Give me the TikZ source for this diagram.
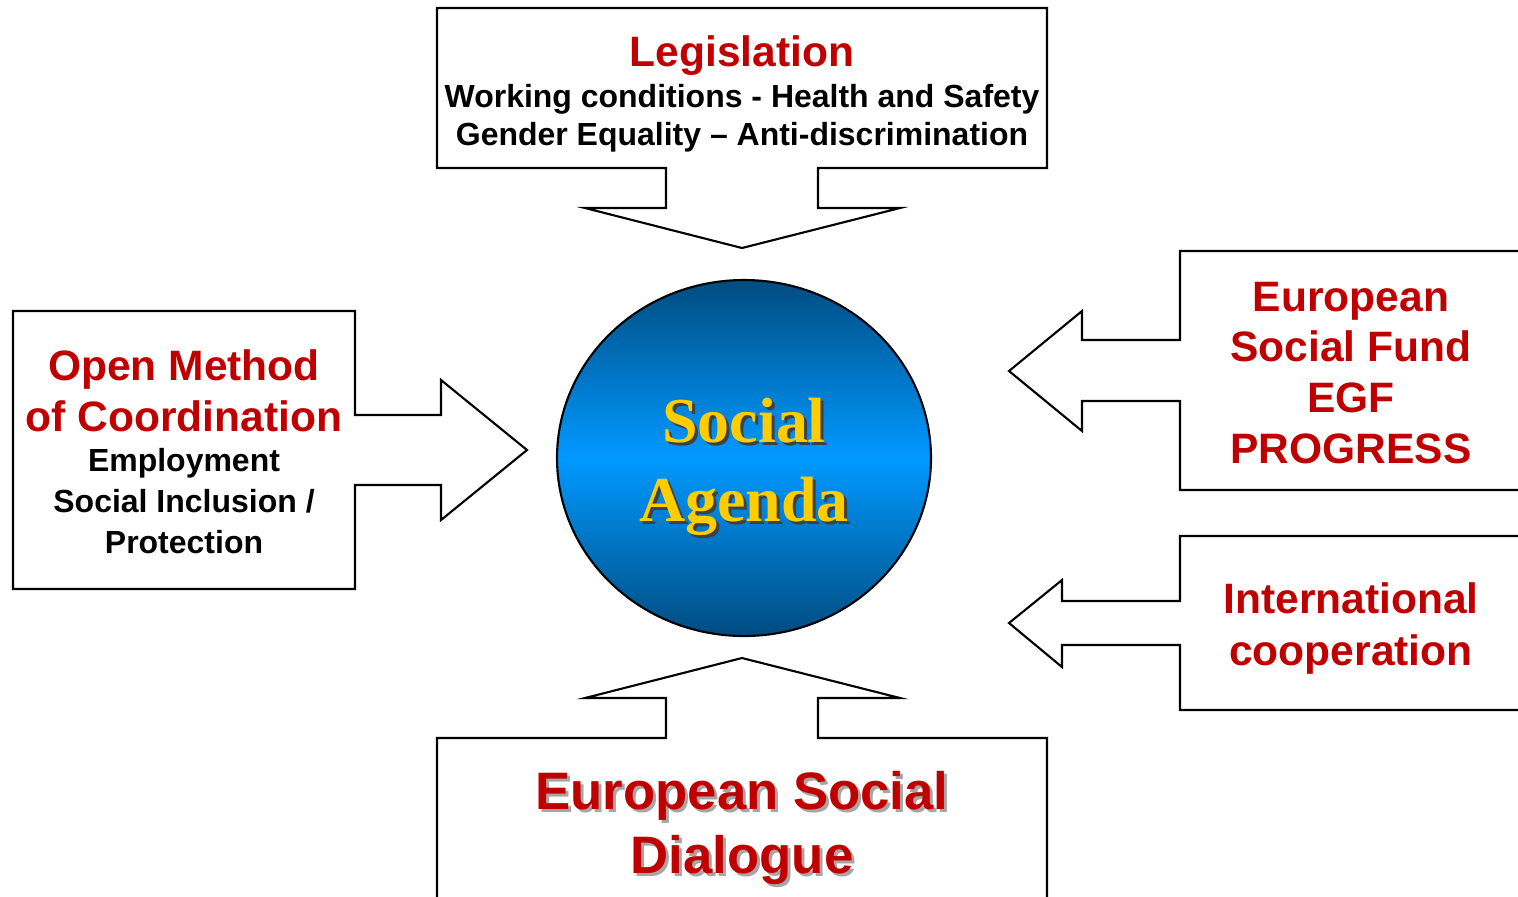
\documentclass[tikz,border=0pt]{standalone}
\usepackage{fontspec}
\setmainfont{Liberation Sans}
\newfontfamily\agendafont{Liberation Serif}
\definecolor{titlered}{HTML}{C00000}
\definecolor{agendagold}{HTML}{FFCC00}
\definecolor{ballblue}{HTML}{0099FF}
\definecolor{balldark}{HTML}{004C80}
\tikzset{
  frame/.style={line width=0.6pt, fill=white},
  titletext/.style={text=titlered, align=center, inner sep=0pt, font=\bfseries\fontsize{12.1}{14.5}\selectfont},
  subtext/.style={align=center, inner sep=0pt, font=\bfseries\fontsize{9.1}{10.8}\selectfont},
  agendatext/.style={text=agendagold, align=center, inner sep=0pt, font=\agendafont\bfseries\fontsize{18.2}{22.5}\selectfont},
}
\begin{document}
\begin{tikzpicture}[x=0.1mm, y=-0.1mm]
    \useasboundingbox (0,0) rectangle (1518,896);
    \clip (0,0) rectangle (1518,896);
    \draw [frame] (437,8) -- (1047,8) -- (1047,168) -- (818,168) -- (818,208) -- (900,208) -- (742,248) -- (585,208) -- (666,208) -- (666,168) -- (437,168) -- cycle;
    \draw [frame] (13,311) -- (355,311) -- (355,415) -- (441,415) -- (441,380) -- (527,450) -- (441,520) -- (441,485) -- (355,485) -- (355,589) -- (13,589) -- cycle;
    \draw [frame] (1540,251) -- (1180,251) -- (1180,340) -- (1082,340) -- (1082,311) -- (1009,371) -- (1082,431) -- (1082,401) -- (1180,401) -- (1180,490) -- (1540,490);
    \draw [frame] (1540,536) -- (1180,536) -- (1180,601) -- (1062,601) -- (1062,580) -- (1009,623) -- (1062,667) -- (1062,645) -- (1180,645) -- (1180,710) -- (1540,710);
    \draw [frame] (437,920) -- (437,738) -- (666,738) -- (666,698) -- (585,698) -- (742,658) -- (900,698) -- (818,698) -- (818,738) -- (1047,738) -- (1047,920);
    \draw [line width=0.6pt, top color=balldark, bottom color=balldark, middle color=ballblue] (744,458) ellipse [x radius=187, y radius=178];

    \node [titletext] (legislation) at (742,56) {Legislation};
    \node [subtext] (legislationsub) at (742,118) {Working conditions - Health and Safety\\Gender Equality -- Anti-discrimination};
    \node [titletext] (omc) at (184,391) {Open Method\\of Coordination};
    \node [subtext, font=\bfseries\fontsize{9.1}{11.7}\selectfont] (omcsub) at (184,501) {Employment\\Social Inclusion /\\Protection};
    \node [titletext] (esf) at (1351,373) {European\\Social Fund\\EGF\\PROGRESS};
    \node [titletext, font=\bfseries\fontsize{12.1}{14.8}\selectfont] (intl) at (1351,628) {International\\cooperation};
    \node [titletext, text=black!35, font=\bfseries\fontsize{15}{18}\selectfont] at (745,831) {European Social\\Dialogue};
    \node [titletext, font=\bfseries\fontsize{15}{18}\selectfont] (esd) at (742,828) {European Social\\Dialogue};
    \node [agendatext, text=black!75] at (747,470) {Social\\Agenda};
    \node [agendatext] (agenda) at (744,467) {Social\\Agenda};
\end{tikzpicture}
\end{document}
